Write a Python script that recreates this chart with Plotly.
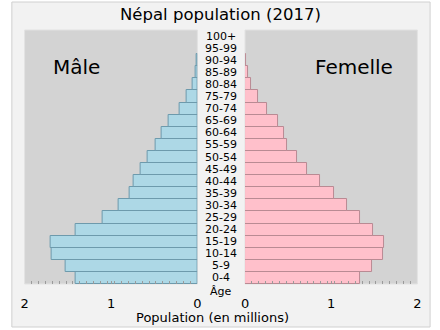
import plotly.graph_objects as go

W, H = 440, 330

ages = ["0-4", "5-9", "10-14", "15-19", "20-24", "25-29", "30-34", "35-39",
        "40-44", "45-49", "50-54", "55-59", "60-64", "65-69", "70-74",
        "75-79", "80-84", "85-89", "90-94", "95-99", "100+"]
male = [1.41, 1.53, 1.69, 1.70, 1.41, 1.10, 0.91, 0.79, 0.735, 0.66, 0.58,
        0.48, 0.42, 0.33, 0.21, 0.13, 0.06, 0.023, 0.008, 0.0, 0.0]
female = [1.33, 1.47, 1.60, 1.61, 1.48, 1.33, 1.18, 1.03, 0.87, 0.72, 0.60,
          0.49, 0.45, 0.38, 0.26, 0.155, 0.075, 0.03, 0.01, 0.0, 0.0]
tick_vals = [0, 1, 2]
tick_text = ["0", "1", "2"]

title = "Népal population (2017)"
male_label = "Mâle"
female_label = "Femelle"
xlabel = "Population (en millions)"
age_label = "Âge"

def px(x):
    return x / W

def py(y):
    return 1 - y / H

FONT = "DejaVu Sans"

fig = go.Figure()
fig.add_trace(go.Bar(y=ages, x=male, orientation="h", xaxis="x", yaxis="y",
                     marker=dict(color="#add8e6",
                                 line=dict(color="#6d9aac", width=[1 if v > 0 else 0 for v in male])),
                     showlegend=False, hoverinfo="skip"))
fig.add_trace(go.Bar(y=ages, x=female, orientation="h", xaxis="x2", yaxis="y",
                     marker=dict(color="#ffc0cb",
                                 line=dict(color="#b98a93", width=[1 if v > 0 else 0 for v in female])),
                     showlegend=False, hoverinfo="skip"))

axis_common = dict(
    tickvals=tick_vals, ticktext=tick_text, ticks="inside", ticklen=3,
    tickcolor="#9a9a9a", showgrid=False, zeroline=False, showline=False,
    tickfont=dict(family=FONT, size=13, color="black"),
    ticklabelstandoff=10,
    minor=dict(ticks="inside", ticklen=3, dtick=0.08, tickcolor="#9a9a9a", showgrid=False),
    fixedrange=True,
)

fig.update_layout(
    width=W, height=H,
    margin=dict(l=0, r=0, t=0, b=0),
    paper_bgcolor="white",
    plot_bgcolor="rgba(0,0,0,0)",
    bargap=0,
    xaxis=dict(domain=[px(21), px(197)], range=[2, 0], anchor="y", **axis_common),
    xaxis2=dict(domain=[px(245.5), px(421)], range=[0, 2], anchor="y", **axis_common),
    yaxis=dict(domain=[py(284), py(30)], type="category", categoryorder="array",
               categoryarray=ages, range=[-0.5, len(ages) - 0.5],
               showticklabels=False, ticks="", showgrid=False, zeroline=False,
               showline=False, fixedrange=True),
    font=dict(family=FONT, color="black"),
)

shapes = [
    dict(type="rect", xref="paper", yref="paper", x0=px(8), x1=px(434), y0=py(327), y1=py(2),
         fillcolor="#f2f2f2", line=dict(color="#d0d0d0", width=1), layer="below"),
    dict(type="rect", xref="x domain", yref="y domain", x0=0, x1=1, y0=0, y1=1,
         fillcolor="#d3d3d3", line=dict(color="#e2e2e2", width=1), layer="below"),
    dict(type="rect", xref="x2 domain", yref="y domain", x0=0, x1=1, y0=0, y1=1,
         fillcolor="#d3d3d3", line=dict(color="#e2e2e2", width=1), layer="below"),
]
fig.update_layout(shapes=shapes)

annotations = [
    dict(text=title, x=px(221), y=py(14), xref="paper", yref="paper", showarrow=False,
         font=dict(family=FONT, size=16.5, color="black"), xanchor="center", yanchor="middle"),
    dict(text=male_label, x=px(73.5), y=py(67), xref="paper", yref="paper", showarrow=False,
         font=dict(family=FONT, size=20, color="black"), xanchor="center", yanchor="middle"),
    dict(text=female_label, x=px(356), y=py(67), xref="paper", yref="paper", showarrow=False,
         font=dict(family=FONT, size=20, color="black"), xanchor="center", yanchor="middle"),
    dict(text=age_label, x=px(221), y=py(291), xref="paper", yref="paper", showarrow=False,
         font=dict(family=FONT, size=11, color="black"), xanchor="center", yanchor="middle"),
    dict(text=xlabel, x=px(212), y=py(317), xref="paper", yref="paper", showarrow=False,
         font=dict(family=FONT, size=13, color="black"), xanchor="center", yanchor="middle"),
]
for a in ages:
    annotations.append(dict(text=a, x=px(221), y=a, xref="paper", yref="y", showarrow=False,
                            font=dict(family=FONT, size=11, color="black"),
                            xanchor="center", yanchor="middle"))
fig.update_layout(annotations=annotations)

fig.write_html("out.html")
